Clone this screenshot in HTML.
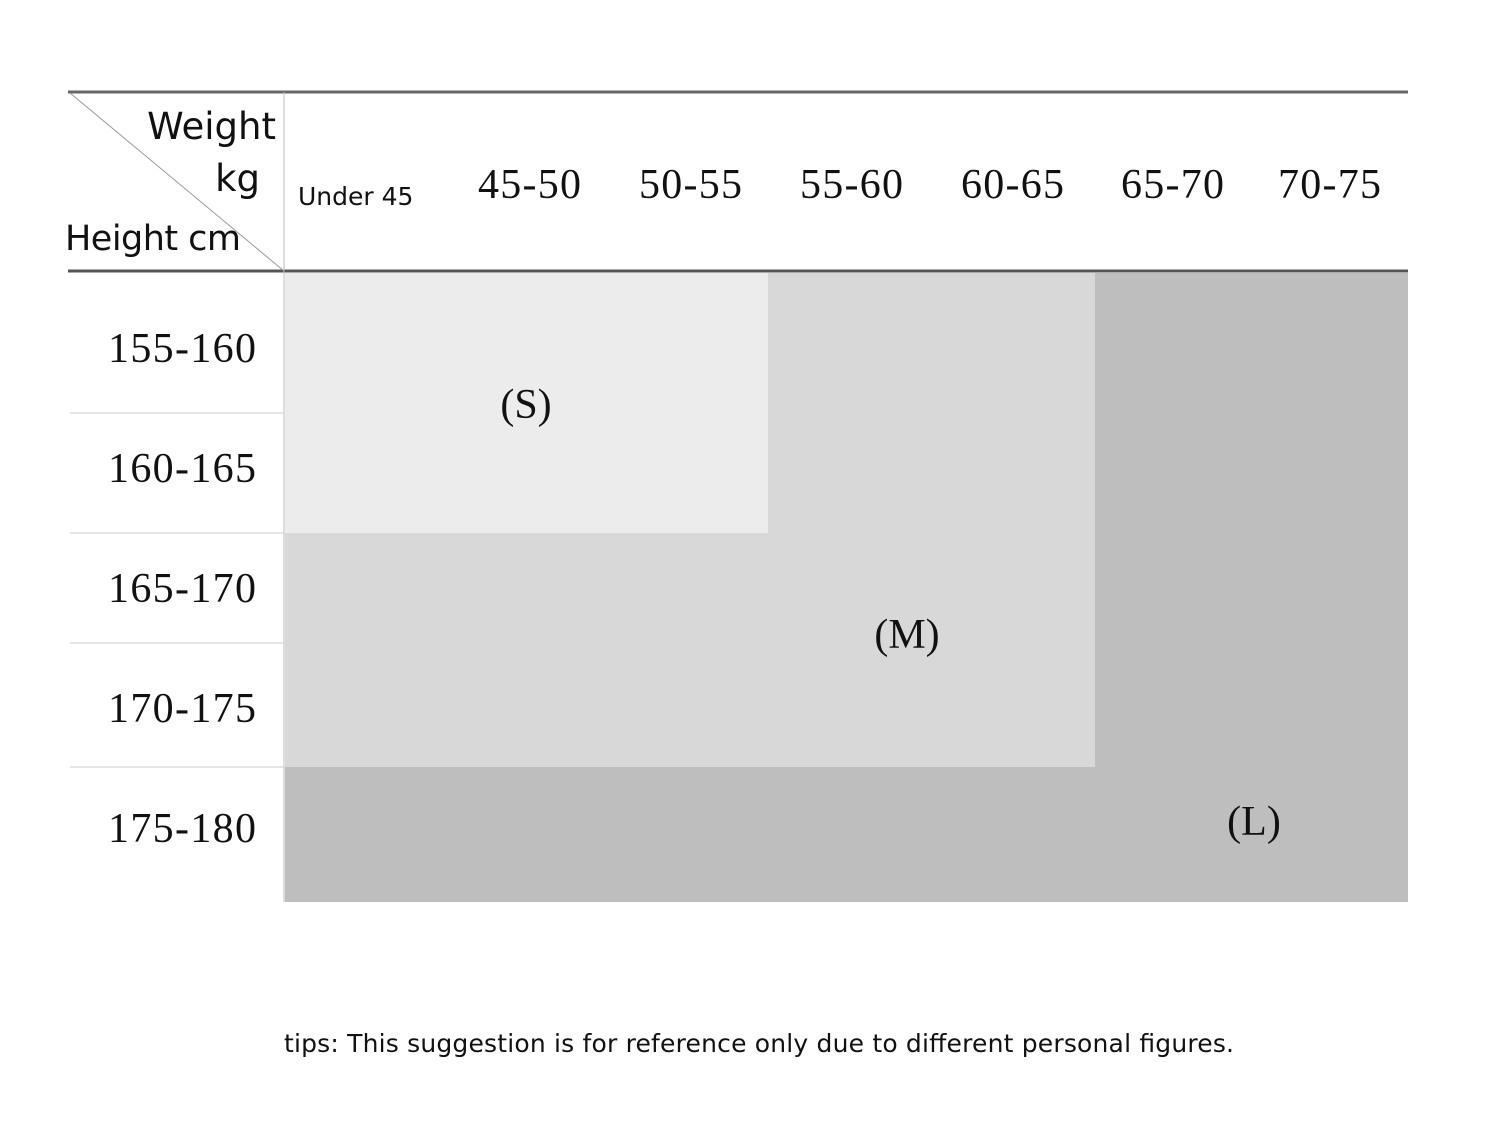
<!DOCTYPE html>
<html><head><meta charset="utf-8"><style>html,body{margin:0;padding:0;background:#fff}</style></head>
<body>
<svg width="1500" height="1142" viewBox="0 0 1500 1142" xmlns="http://www.w3.org/2000/svg">
<rect width="1500" height="1142" fill="#fff"/>
<rect x="285" y="273" width="1123" height="629" fill="#bebebe"/>
<rect x="285" y="273" width="810" height="494" fill="#d8d8d8"/>
<rect x="285" y="273" width="483" height="260" fill="#ececec"/>
<line x1="68" y1="92" x2="1408" y2="92" stroke="#666" stroke-width="3"/>
<line x1="68" y1="271" x2="1408" y2="271" stroke="#555" stroke-width="3"/>
<line x1="284" y1="92" x2="284" y2="902" stroke="#bbb" stroke-width="1"/>
<line x1="70" y1="93" x2="284" y2="271" stroke="#999" stroke-width="1"/>
<g stroke="#ccc" stroke-width="1">
<line x1="70" y1="413" x2="284" y2="413"/>
<line x1="70" y1="533" x2="284" y2="533"/>
<line x1="70" y1="643" x2="284" y2="643"/>
<line x1="70" y1="767" x2="284" y2="767"/>
</g>
<g font-family="'DejaVu Sans','Liberation Sans',sans-serif" fill="#111">
<text x="276" y="139" font-size="37" text-anchor="end">Weight</text>
<text x="260" y="191" font-size="37" text-anchor="end">kg</text>
<text x="65" y="250" font-size="35" textLength="176">Height cm</text>
<text x="298" y="205" font-size="25">Under 45</text>
<text x="284" y="1052" font-size="25" textLength="950">tips: This suggestion is for reference only due to different personal figures.</text>
</g>
<g font-family="'Liberation Serif',serif" fill="#111" font-size="42">
<text x="478" y="198" textLength="103">45-50</text>
<text x="639" y="198" textLength="103">50-55</text>
<text x="800" y="198" textLength="103">55-60</text>
<text x="961" y="198" textLength="103">60-65</text>
<text x="1121" y="198" textLength="103">65-70</text>
<text x="1278" y="198" textLength="103">70-75</text>
<text x="108" y="362" textLength="148">155-160</text>
<text x="108" y="482" textLength="148">160-165</text>
<text x="108" y="602" textLength="148">165-170</text>
<text x="108" y="722" textLength="148">170-175</text>
<text x="108" y="842" textLength="148">175-180</text>
</g>
<g font-family="'Liberation Serif',serif" fill="#111" font-size="42" text-anchor="middle">
<text x="526" y="418">(S)</text>
<text x="907" y="648">(M)</text>
<text x="1254" y="835">(L)</text>
</g>
</svg>
</body></html>
